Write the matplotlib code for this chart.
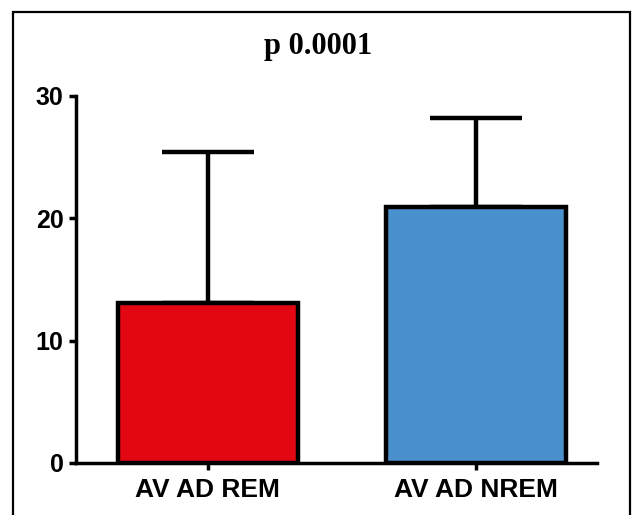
import matplotlib
matplotlib.use('Agg')
import matplotlib.pyplot as plt
import matplotlib.patches as mpatches

# Data
categories = ['AV AD REM', 'AV AD NREM']
means = [13.1, 20.9]
upper_err = [12.3, 7.3]
bar_colors = ['#E30613', '#4990CC']
title = 'p 0.0001'

fig = plt.figure(figsize=(6.37, 5.15), dpi=100)
ax = fig.add_axes([0.1193, 0.1010, 0.8177, 0.7126])

x = range(len(categories))
ax.bar(x, means, width=0.67, color=bar_colors, edgecolor='black', linewidth=3.2, zorder=2)
ax.errorbar(x, means, yerr=[[0] * len(means), upper_err], fmt='none', ecolor='black',
            elinewidth=3.2, capsize=33, capthick=3.2, zorder=1)

ax.set_xlim(-0.49, 1.45)
ax.set_ylim(0, 30)
ax.set_yticks([0, 10, 20, 30])
ax.set_xticks(list(x))
ax.set_xticklabels(categories)

for s in ['top', 'right']:
    ax.spines[s].set_visible(False)
for s in ['left', 'bottom']:
    ax.spines[s].set_linewidth(2.5)

ax.tick_params(axis='both', direction='out', length=5, width=2.5, pad=4)
ax.tick_params(axis='x', pad=6)
for lab in ax.get_yticklabels():
    lab.set_fontfamily('Liberation Sans')
    lab.set_fontweight('bold')
    lab.set_fontsize(18)
for lab in ax.get_xticklabels():
    lab.set_fontfamily('Liberation Sans')
    lab.set_fontweight('bold')
    lab.set_fontsize(19)

fig.text(0.5, 0.91, title, ha='center', va='center', family='Liberation Serif',
         fontweight='bold', fontsize=22)

# frame around the figure (bottom edge runs off the image)
border = mpatches.Rectangle((0.0204, -0.1), 0.9686, 1.0767, transform=fig.transFigure,
                            fill=False, edgecolor='black', linewidth=1.6)
fig.patches.append(border)

plt.savefig('out.png', dpi=100)
